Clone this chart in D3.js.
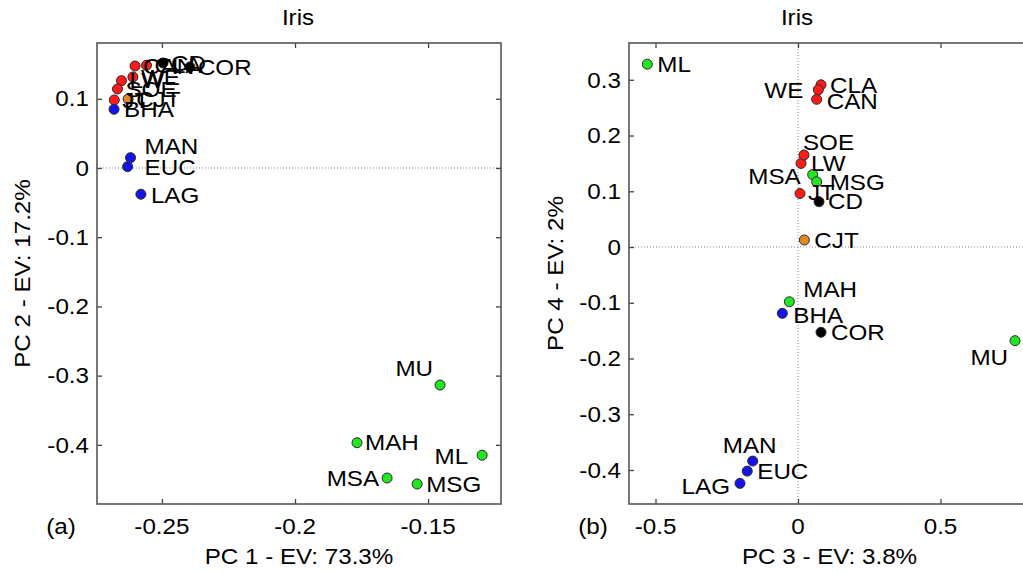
<!DOCTYPE html>
<html>
  <head>
    <script src="https://d3js.org/d3.v7.min.js"></script>
    <style>
      body { margin: 0; background: #fff; }
      text { font-family: "Liberation Sans", Arial, sans-serif; fill: #000; }
    </style>
  </head>
  <body>
    <script type="text/javascript">

      // chart values
      var names  = ["CLA", "CAN", "WE", "LW", "SOE", "JT", "CD", "COR", "CJT", "BHA", "MAN", "EUC", "LAG", "ML", "MSA", "MSG", "MAH", "MU"];
      var groups = ["red", "red", "red", "red", "red", "red", "black", "black", "orange", "blue", "blue", "blue", "blue", "green", "green", "green", "green", "green"];
      var pc1 = [-0.2558, -0.2601, -0.2609, -0.2652, -0.2667, -0.2679, -0.2496, -0.2395, -0.2627, -0.2680, -0.2618, -0.2629, -0.2579, -0.1297, -0.1654, -0.1541, -0.1767, -0.1455];
      var pc2 = [0.1484, 0.1474, 0.1315, 0.1262, 0.1142, 0.0983, 0.1517, 0.1460, 0.0997, 0.0848, 0.0149, 0.0019, -0.0380, -0.4150, -0.4480, -0.4566, -0.3970, -0.3136];
      var pc3 = [0.0807, 0.0655, 0.0713, 0.0105, 0.0210, 0.0070, 0.0737, 0.0807, 0.0222, -0.0550, -0.1590, -0.1780, -0.2035, -0.5288, 0.0515, 0.0655, -0.0304, 0.7614];
      var pc4 = [0.291, 0.265, 0.282, 0.150, 0.165, 0.096, 0.0813, -0.153, 0.0126, -0.119, -0.384, -0.402, -0.424, 0.328, 0.130, 0.117, -0.0982, -0.168];

      var xTicksA = [-0.25, -0.2, -0.15];
      var yTicksA = [0.1, 0, -0.1, -0.2, -0.3, -0.4];
      var xTicksB = [-0.5, 0, 0.5];
      var yTicksB = [0.3, 0.2, 0.1, 0, -0.1, -0.2, -0.3, -0.4];

      var colors = { red: "#ff1a1a", black: "#000000", orange: "#e08a1e", blue: "#1414e6", green: "#22e622" };

      // where each label sits relative to its point: [dx, dy, anchor]
      var labelsA = {
        CLA: [8, 0, "start"], CAN: [8, 0, "start"], WE: [8, 0, "start"], LW: [8, 0, "start"],
        SOE: [8, 0, "start"], JT: [8, 0, "start"], CD: [8, 0, "start"], COR: [8, 0, "start"],
        CJT: [8, 0, "start"], BHA: [10, 0, "start"], MAN: [14, -11, "start"], EUC: [17, 1, "start"],
        LAG: [10, 1, "start"], ML: [-14, 1, "end"], MSA: [-8, 0, "end"], MSG: [9, 0, "start"],
        MAH: [8, 0, "start"], MU: [-7, -17, "end"]
      };
      var labelsB = {
        CLA: [9, 0, "start"], CAN: [10, 2, "start"], WE: [-15, 0, "end"], LW: [10, 0, "start"],
        SOE: [-1, -13, "start"], JT: [8, -1, "start"], CD: [9, 0, "start"], COR: [10, 0, "start"],
        CJT: [10, 0, "start"], BHA: [11, 2, "start"], MAN: [-3, -16, "middle"], EUC: [10, 0, "start"],
        LAG: [-10, 3, "end"], ML: [10, 0, "start"], MSA: [-12, 2, "end"], MSG: [13, 0, "start"],
        MAH: [14, -12, "start"], MU: [-7, 17, "end"]
      };

      var W = 1023, H = 573;
      var SX = 1.1;       // text looks a bit wide in the original
      var FS = 22;

      var svg = d3.select("body").append("svg")
          .attr("width", W)
          .attr("height", H);

      function addText(g, x, y, str, anchor, rot) {
        return g.append("text")
          .attr("transform", "translate(" + x + "," + y + ")" + (rot ? " rotate(" + rot + ")" : "") + " scale(" + SX + ",1)")
          .attr("text-anchor", anchor)
          .attr("dy", "0.35em")
          .style("font-size", FS + "px")
          .text(str);
      }

      function panel(opt) {
        var x = d3.scaleLinear().domain(opt.xDomain).range([opt.left, opt.right]);
        var y = d3.scaleLinear().domain(opt.yDomain).range([opt.bottom, opt.top]);
        var g = svg.append("g");

        // zero lines
        if (y.domain()[0] < 0 && y.domain()[1] > 0) {
          g.append("line")
            .attr("x1", opt.left).attr("x2", opt.right)
            .attr("y1", y(0)).attr("y2", y(0))
            .attr("stroke", "#8a8a8a").attr("stroke-width", 1)
            .attr("stroke-dasharray", "1,2");
        }
        if (x.domain()[0] < 0 && x.domain()[1] > 0) {
          g.append("line")
            .attr("y1", opt.top).attr("y2", opt.bottom)
            .attr("x1", x(0)).attr("x2", x(0))
            .attr("stroke", "#8a8a8a").attr("stroke-width", 1)
            .attr("stroke-dasharray", "1,2");
        }

        // ticks inside, on all four sides
        var tl = 5;
        var xAxisB = d3.axisBottom(x).tickValues(opt.xTicks).tickSize(-tl).tickFormat("");
        var xAxisT = d3.axisTop(x).tickValues(opt.xTicks).tickSize(-tl).tickFormat("");
        var yAxisL = d3.axisLeft(y).tickValues(opt.yTicks).tickSize(-tl).tickFormat("");
        var yAxisR = d3.axisRight(y).tickValues(opt.yTicks).tickSize(-tl).tickFormat("");
        [
          [xAxisB, "translate(0," + opt.bottom + ")"],
          [xAxisT, "translate(0," + opt.top + ")"],
          [yAxisL, "translate(" + opt.left + ",0)"],
          [yAxisR, "translate(" + opt.right + ",0)"]
        ].forEach(function(a) {
          var ax = g.append("g").attr("transform", a[1]).call(a[0]);
          ax.select(".domain").remove();
          ax.selectAll("line").attr("stroke", "#444").attr("stroke-width", 1.3);
        });

        // box
        g.append("rect")
          .attr("x", opt.left).attr("y", opt.top)
          .attr("width", opt.right - opt.left).attr("height", opt.bottom - opt.top)
          .attr("fill", "none").attr("stroke", "#555").attr("stroke-width", 1.6);

        // tick labels
        opt.xTicks.forEach(function(t) {
          addText(g, x(t), opt.bottom + 22, String(t), "middle");
        });
        opt.yTicks.forEach(function(t) {
          addText(g, opt.left - 8, y(t), String(t), "end");
        });

        // points
        g.selectAll("circle.pt")
          .data(names)
          .enter().append("circle")
            .attr("class", "pt")
            .attr("cx", function(d, i) { return x(opt.xs[i]); })
            .attr("cy", function(d, i) { return y(opt.ys[i]); })
            .attr("r", 5)
            .attr("fill", function(d, i) { return colors[groups[i]]; })
            .attr("stroke", "#2a2a2a")
            .attr("stroke-width", 1);

        // point labels
        names.forEach(function(n, i) {
          var p = opt.labels[n];
          addText(g, x(opt.xs[i]) + p[0], y(opt.ys[i]) + p[1], n, p[2]);
        });

        // titles
        addText(g, opt.titleX, 17, "Iris", "middle");
        addText(g, opt.panelTagX, opt.bottom + 22, opt.tag, "middle");
        addText(g, (opt.left + opt.right) / 2, H - 17, opt.xLabel, "middle");
        addText(g, opt.yLabelX, (opt.top + opt.bottom) / 2, opt.yLabel, "middle", -90);
      }

      panel({
        left: 97, right: 501, top: 43, bottom: 504,
        xDomain: [-0.2744, -0.1226], yDomain: [-0.4855, 0.1806],
        xTicks: xTicksA, yTicks: yTicksA,
        xs: pc1, ys: pc2, labels: labelsA,
        titleX: 298, panelTagX: 61, tag: "(a)",
        xLabel: "PC 1 - EV: 73.3%", yLabel: "PC 2 - EV: 17.2%", yLabelX: 22
      });

      panel({
        left: 629, right: 1030, top: 43, bottom: 504,
        xDomain: [-0.593, 0.814], yDomain: [-0.461, 0.366],
        xTicks: xTicksB, yTicks: yTicksB,
        xs: pc3, ys: pc4, labels: labelsB,
        titleX: 797, panelTagX: 593, tag: "(b)",
        xLabel: "PC 3 - EV: 3.8%", yLabel: "PC 4 - EV: 2%", yLabelX: 555
      });

    </script>
  </body>
</html>
